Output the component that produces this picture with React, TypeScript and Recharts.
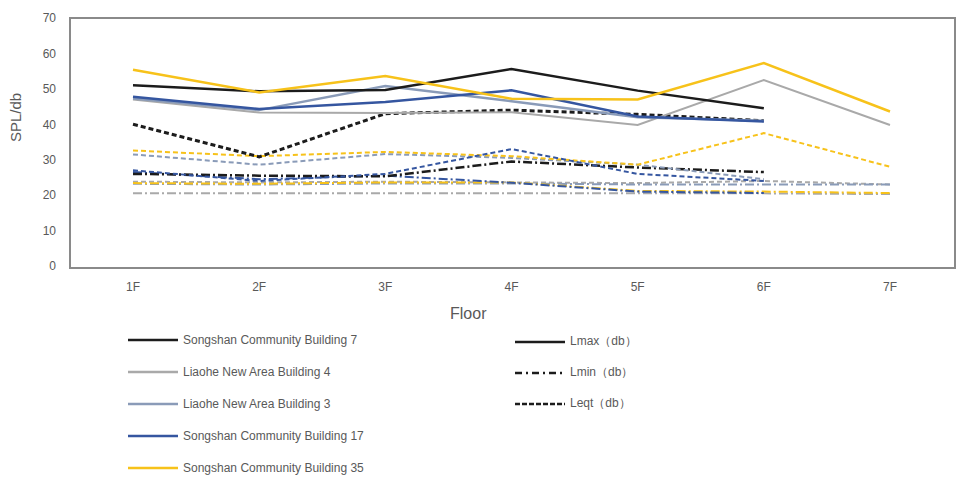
import React from 'react';
import { LineChart, Line, XAxis, YAxis } from 'recharts';

const floors = ['1F', '2F', '3F', '4F', '5F', '6F', '7F'];
const yTicks = [0, 10, 20, 30, 40, 50, 60, 70];

// Lmax (solid)
const b7Lmax = [51, 49.3, 49.7, 55.6, 49.5, 44.5, null];
const l4Lmax = [47, 43.3, 43.2, 43.4, 39.8, 52.5, 39.8];
const l3Lmax = [47.3, 44, 50.8, 46.5, 42, 41, null];
const b17Lmax = [47.8, 44.3, 46.3, 49.6, 42.2, 40.8, null];
const b35Lmax = [55.4, 49, 53.6, 47.2, 47, 57.3, 43.6];

// Lmin (dash-dot)
const b7Lmin = [26, 25.5, 25.3, 29.5, 27.8, 26.5, null];
const l4Lmin = [20.5, 20.5, 20.5, 20.5, 20.5, 20.5, 20.3];
const l3Lmin = [23.2, 23, 23.3, 23.3, 23, 23, 23];
const b17Lmin = [26.5, 24.5, 25.5, 23.5, 21, 20.6, null];
const b35Lmin = [23.4, 23.2, 23.6, 23.6, 21.2, 21, 20.6];

// Leqt (dashed)
const b7Leqt = [40, 30.8, 43, 44, 42.8, 41, null];
const l4Leqt = [23.8, 23.6, 23.8, 23.6, 23.4, 24, 23];
const l3Leqt = [31.5, 28.6, 31.6, 30.5, 28.6, 24.5, null];
const b17Leqt = [27, 24, 26, 33, 26, 24, null];
const b35Leqt = [32.6, 31, 32.2, 31, 28.6, 37.5, 28];

const C_B7 = '#1c1c1c';
const C_L4 = '#a9a9a9';
const C_L3 = '#8a9bb8';
const C_B17 = '#3556a0';
const C_B35 = '#f7c21a';

const DASH_MIN = '9 3 2 3';
const DASH_EQT = '5 3';

const data = floors.map((f, i) => ({
  floor: f,
  b7Lmax: b7Lmax[i], l4Lmax: l4Lmax[i], l3Lmax: l3Lmax[i], b17Lmax: b17Lmax[i], b35Lmax: b35Lmax[i],
  b7Lmin: b7Lmin[i], l4Lmin: l4Lmin[i], l3Lmin: l3Lmin[i], b17Lmin: b17Lmin[i], b35Lmin: b35Lmin[i],
  b7Leqt: b7Leqt[i], l4Leqt: l4Leqt[i], l3Leqt: l3Leqt[i], b17Leqt: b17Leqt[i], b35Leqt: b35Leqt[i],
}));

const buildingLegend = [
  { name: 'Songshan Community Building 7', color: C_B7 },
  { name: 'Liaohe New Area Building 4', color: C_L4 },
  { name: 'Liaohe New Area Building 3', color: C_L3 },
  { name: 'Songshan Community Building 17', color: C_B17 },
  { name: 'Songshan Community Building 35', color: C_B35 },
];

const metricLegend = [
  { name: 'Lmax（db）', dash: undefined },
  { name: 'Lmin（db）', dash: '7 4 2 4' },
  { name: 'Leqt（db）', dash: '5 2' },
];

const font = '"Liberation Sans", Arial, sans-serif';
const tickStyle = { fill: '#595959', fontSize: 12, fontFamily: font };

const series = [
  { key: 'l4Leqt', color: C_L4, dash: DASH_EQT, w: 2 },
  { key: 'l4Lmin', color: C_L4, dash: DASH_MIN, w: 2 },
  { key: 'l3Lmin', color: C_L3, dash: DASH_MIN, w: 2 },
  { key: 'b35Lmin', color: C_B35, dash: DASH_MIN, w: 2 },
  { key: 'b17Lmin', color: C_B17, dash: DASH_MIN, w: 2 },
  { key: 'b7Lmin', color: C_B7, dash: DASH_MIN, w: 2.5 },
  { key: 'l3Leqt', color: C_L3, dash: DASH_EQT, w: 2 },
  { key: 'b35Leqt', color: C_B35, dash: DASH_EQT, w: 2 },
  { key: 'b17Leqt', color: C_B17, dash: DASH_EQT, w: 2 },
  { key: 'b7Leqt', color: C_B7, dash: DASH_EQT, w: 3 },
  { key: 'l4Lmax', color: C_L4, dash: undefined, w: 2 },
  { key: 'l3Lmax', color: C_L3, dash: undefined, w: 2.5 },
  { key: 'b17Lmax', color: C_B17, dash: undefined, w: 2.5 },
  { key: 'b7Lmax', color: C_B7, dash: undefined, w: 2.5 },
  { key: 'b35Lmax', color: C_B35, dash: undefined, w: 2.5 },
];

const LegendRow: React.FC<{ name: string; color: string; dash?: string; top: number; left: number }> = ({ name, color, dash, top, left }) => (
  <div style={{ position: 'absolute', top, left, display: 'flex', alignItems: 'center', fontSize: 12, color: '#595959', fontFamily: font, whiteSpace: 'nowrap' }}>
    <svg width={52} height={8} style={{ marginRight: 4 }}>
      <line x1={1} y1={4} x2={51} y2={4} stroke={color} strokeWidth={2.5} strokeDasharray={dash} />
    </svg>
    <span>{name}</span>
  </div>
);

export default function App() {
  return (
    <div style={{ position: 'relative', width: 956, height: 477, background: '#fff', fontFamily: font }}>
      <style>{'body{margin:0}'}</style>
      <LineChart width={956} height={300} data={data} margin={{ top: 18, right: 3, left: 0, bottom: 0 }}>
        <XAxis
          dataKey="floor"
          padding={{ left: 63, right: 63 }}
          axisLine={false}
          tickLine={false}
          tick={tickStyle}
          tickMargin={10}
          height={34}
        />
        <YAxis
          domain={[0, 70]}
          ticks={yTicks}
          axisLine={false}
          tickLine={false}
          tick={tickStyle}
          tickMargin={8}
          width={70}
          label={{ value: 'SPL/db', angle: -90, position: 'insideLeft', offset: 16, fill: '#595959', fontSize: 15, fontFamily: font }}
        />
        {series.map((s) => (
          <Line
            key={s.key}
            dataKey={s.key}
            stroke={s.color}
            strokeWidth={s.w}
            strokeDasharray={s.dash}
            dot={false}
            activeDot={false}
            type="linear"
            isAnimationActive={false}
          />
        ))}
      </LineChart>
      {/* plot frame */}
      <div style={{ position: 'absolute', left: 69, top: 17, width: 883, height: 248, border: '2px solid #8a8a8a', pointerEvents: 'none' }} />
      <div style={{ position: 'absolute', top: 305, left: 450, fontSize: 16, color: '#595959' }}>Floor</div>
      {buildingLegend.map((b, i) => (
        <LegendRow key={b.name} name={b.name} color={b.color} top={333 + i * 32} left={127} />
      ))}
      {metricLegend.map((m, i) => (
        <LegendRow key={m.name} name={m.name} color="#1c1c1c" dash={m.dash} top={333 + i * 31} left={514} />
      ))}
    </div>
  );
}
